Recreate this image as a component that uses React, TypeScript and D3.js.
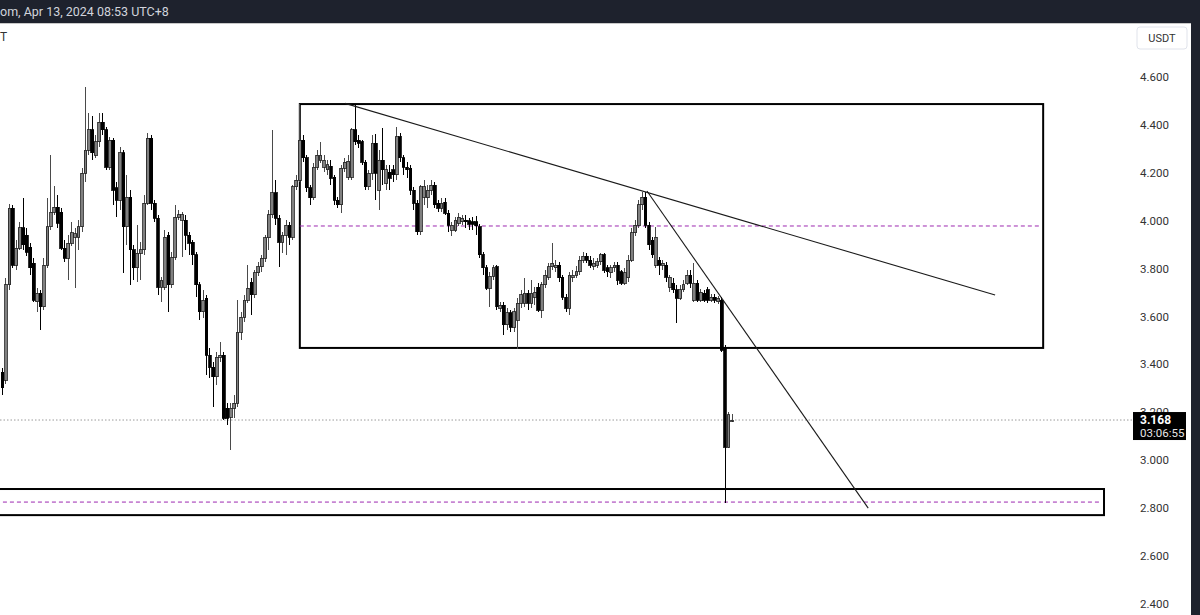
import React from 'react';
import * as d3 from 'd3';

// [open, high, low, close]
const ohlc: [number, number, number, number][] = [
  [3.368, 3.385, 3.273, 3.302], [3.335, 3.761, 3.318, 3.732], [3.732, 4.070, 3.711, 4.053], [4.053, 4.066, 3.803, 3.815],
  [3.815, 3.919, 3.794, 3.886], [3.886, 3.995, 3.878, 3.970], [3.970, 4.095, 3.878, 3.899], [3.940, 3.970, 3.852, 3.869],
  [3.890, 3.907, 3.773, 3.803], [3.823, 3.844, 3.661, 3.669], [3.661, 3.719, 3.619, 3.698], [3.698, 3.711, 3.544, 3.640],
  [3.640, 3.844, 3.627, 3.815], [3.815, 4.095, 3.803, 3.974], [3.974, 4.274, 3.961, 4.036], [4.036, 4.145, 4.024, 4.057],
  [4.057, 4.107, 3.970, 3.990], [4.036, 4.053, 3.878, 3.886], [3.886, 3.919, 3.828, 3.844], [3.844, 3.940, 3.752, 3.907],
  [3.907, 3.995, 3.894, 3.949], [3.932, 3.970, 3.719, 3.945], [3.932, 4.003, 3.878, 3.974], [3.974, 4.220, 3.953, 4.199],
  [4.199, 4.558, 4.162, 4.295], [4.295, 4.450, 4.274, 4.379], [4.379, 4.437, 4.253, 4.283], [4.274, 4.358, 4.262, 4.329],
  [4.329, 4.450, 4.308, 4.412], [4.412, 4.450, 4.358, 4.379], [4.379, 4.391, 4.212, 4.224], [4.224, 4.350, 4.212, 4.337],
  [4.337, 4.345, 4.066, 4.128], [4.137, 4.162, 4.015, 4.086], [4.086, 4.308, 4.045, 4.283], [4.283, 4.295, 3.782, 3.974],
  [3.974, 4.191, 3.899, 4.099], [4.099, 4.128, 3.732, 3.878], [3.878, 3.899, 3.752, 3.803], [3.803, 3.982, 3.744, 3.865],
  [3.865, 3.911, 3.752, 3.878], [3.878, 4.107, 3.857, 4.074], [4.074, 4.366, 4.066, 4.345], [4.345, 4.358, 4.045, 4.074],
  [4.074, 4.086, 3.995, 4.011], [4.011, 4.024, 3.690, 3.723], [3.723, 3.765, 3.661, 3.752], [3.723, 3.961, 3.711, 3.932],
  [3.940, 3.953, 3.619, 3.732], [3.732, 3.869, 3.719, 3.848], [3.848, 4.066, 3.836, 4.015], [4.015, 4.045, 4.003, 4.024],
  [4.003, 4.036, 3.848, 4.024], [4.003, 4.024, 3.878, 3.940], [3.940, 3.953, 3.857, 3.907], [3.911, 3.919, 3.815, 3.857],
  [3.857, 3.869, 3.681, 3.732], [3.732, 3.744, 3.585, 3.619], [3.619, 3.711, 3.594, 3.669], [3.677, 3.690, 3.356, 3.439],
  [3.439, 3.469, 3.343, 3.389], [3.389, 3.410, 3.222, 3.348], [3.348, 3.452, 3.314, 3.431], [3.431, 3.494, 3.410, 3.439],
  [3.439, 3.452, 3.168, 3.176], [3.218, 3.239, 3.147, 3.176], [3.180, 3.239, 3.043, 3.218], [3.218, 3.273, 3.176, 3.239],
  [3.239, 3.669, 3.222, 3.535], [3.535, 3.619, 3.502, 3.598], [3.598, 3.690, 3.577, 3.669], [3.669, 3.815, 3.656, 3.719],
  [3.744, 3.761, 3.606, 3.690], [3.690, 3.794, 3.677, 3.782], [3.782, 3.828, 3.769, 3.807], [3.807, 3.857, 3.786, 3.844],
  [3.844, 3.940, 3.828, 3.928], [3.928, 4.045, 3.878, 4.024], [4.024, 4.379, 4.011, 4.116], [4.116, 4.170, 3.982, 4.011],
  [4.011, 4.024, 3.807, 3.911], [3.911, 3.953, 3.865, 3.940], [3.940, 4.003, 3.857, 3.982], [3.982, 3.995, 3.899, 3.932],
  [3.932, 4.149, 3.919, 4.141], [4.141, 4.191, 4.128, 4.170], [4.170, 4.487, 4.162, 4.337], [4.337, 4.358, 4.245, 4.262],
  [4.262, 4.274, 4.120, 4.137], [4.137, 4.149, 4.066, 4.095], [4.095, 4.241, 4.086, 4.224], [4.224, 4.295, 4.212, 4.274],
  [4.253, 4.329, 4.241, 4.274], [4.224, 4.274, 4.203, 4.253], [4.212, 4.253, 4.191, 4.233], [4.228, 4.253, 4.149, 4.178],
  [4.182, 4.191, 4.066, 4.086], [4.086, 4.099, 4.053, 4.066], [4.066, 4.233, 4.032, 4.220], [4.220, 4.262, 4.203, 4.245],
  [4.182, 4.274, 4.170, 4.249], [4.182, 4.387, 4.170, 4.379], [4.379, 4.487, 4.316, 4.329], [4.337, 4.358, 4.304, 4.324],
  [4.329, 4.337, 4.233, 4.245], [4.245, 4.253, 4.128, 4.141], [4.141, 4.212, 4.128, 4.199], [4.199, 4.358, 4.170, 4.324],
  [4.324, 4.362, 4.086, 4.199], [4.128, 4.295, 4.045, 4.253], [4.253, 4.387, 4.149, 4.212], [4.157, 4.233, 4.128, 4.212],
  [4.203, 4.233, 4.128, 4.178], [4.212, 4.233, 4.162, 4.191], [4.191, 4.391, 4.170, 4.350], [4.350, 4.366, 4.245, 4.262],
  [4.262, 4.274, 4.191, 4.224], [4.224, 4.245, 4.178, 4.212], [4.220, 4.233, 4.107, 4.128], [4.128, 4.141, 4.045, 4.074],
  [4.074, 4.086, 3.940, 3.953], [3.953, 4.149, 3.940, 4.141], [4.099, 4.170, 4.066, 4.141], [4.095, 4.149, 4.053, 4.128],
  [4.128, 4.170, 4.107, 4.149], [4.149, 4.162, 4.053, 4.066], [4.074, 4.086, 4.036, 4.053], [4.053, 4.095, 4.036, 4.074],
  [4.078, 4.095, 4.024, 4.032], [4.032, 4.045, 3.953, 3.982], [3.961, 3.995, 3.936, 3.982], [3.961, 4.015, 3.953, 4.003],
  [3.990, 4.032, 3.978, 4.015], [3.995, 4.024, 3.982, 4.011], [4.003, 4.024, 3.970, 3.995], [3.999, 4.011, 3.961, 3.986],
  [3.995, 4.015, 3.961, 3.986], [3.995, 4.020, 3.940, 3.978], [3.974, 3.986, 3.844, 3.857], [3.857, 3.869, 3.773, 3.803],
  [3.803, 3.815, 3.711, 3.719], [3.719, 3.786, 3.640, 3.769], [3.769, 3.815, 3.752, 3.803], [3.807, 3.815, 3.627, 3.640],
  [3.635, 3.661, 3.619, 3.648], [3.648, 3.661, 3.523, 3.565], [3.565, 3.635, 3.544, 3.615], [3.615, 3.627, 3.535, 3.556],
  [3.556, 3.635, 3.535, 3.619], [3.585, 3.677, 3.465, 3.656], [3.656, 3.711, 3.635, 3.690], [3.656, 3.761, 3.640, 3.698],
  [3.698, 3.711, 3.627, 3.656], [3.656, 3.752, 3.635, 3.698], [3.681, 3.723, 3.648, 3.702], [3.723, 3.740, 3.619, 3.627],
  [3.627, 3.744, 3.594, 3.732], [3.732, 3.794, 3.719, 3.773], [3.765, 3.823, 3.752, 3.807], [3.807, 3.907, 3.794, 3.823],
  [3.803, 3.836, 3.786, 3.815], [3.815, 3.828, 3.744, 3.761], [3.765, 3.773, 3.669, 3.681], [3.681, 3.694, 3.619, 3.635],
  [3.635, 3.786, 3.606, 3.773], [3.765, 3.794, 3.744, 3.773], [3.773, 3.811, 3.761, 3.786], [3.786, 3.852, 3.773, 3.836],
  [3.836, 3.869, 3.823, 3.852], [3.852, 3.865, 3.823, 3.836], [3.836, 3.852, 3.803, 3.815], [3.811, 3.844, 3.794, 3.823],
  [3.815, 3.844, 3.803, 3.828], [3.828, 3.865, 3.815, 3.857], [3.857, 3.865, 3.782, 3.794], [3.803, 3.815, 3.765, 3.786],
  [3.782, 3.815, 3.761, 3.803], [3.803, 3.828, 3.786, 3.815], [3.815, 3.828, 3.732, 3.752], [3.786, 3.794, 3.732, 3.740],
  [3.740, 3.803, 3.732, 3.782], [3.761, 3.857, 3.744, 3.836], [3.836, 3.970, 3.828, 3.949], [3.949, 4.003, 3.936, 3.982],
  [3.982, 4.086, 3.970, 4.066], [4.066, 4.120, 4.045, 4.099], [4.099, 4.120, 3.970, 3.982], [3.982, 3.995, 3.878, 3.899],
  [3.919, 3.932, 3.844, 3.857], [3.815, 3.974, 3.803, 3.932], [3.836, 3.848, 3.773, 3.815], [3.815, 3.836, 3.794, 3.823],
  [3.815, 3.828, 3.744, 3.765], [3.723, 3.773, 3.702, 3.765], [3.740, 3.761, 3.698, 3.711], [3.711, 3.732, 3.573, 3.677],
  [3.677, 3.732, 3.669, 3.711], [3.711, 3.752, 3.702, 3.732], [3.740, 3.794, 3.732, 3.773], [3.773, 3.794, 3.719, 3.740],
  [3.669, 3.823, 3.661, 3.740], [3.740, 3.752, 3.661, 3.669], [3.669, 3.715, 3.661, 3.702], [3.698, 3.711, 3.661, 3.669],
  [3.711, 3.723, 3.656, 3.669], [3.669, 3.694, 3.661, 3.681], [3.681, 3.694, 3.656, 3.669], [3.661, 3.686, 3.652, 3.677],
  [3.669, 3.681, 3.452, 3.460], [3.465, 3.481, 2.821, 3.055], [3.055, 3.201, 3.051, 3.189], [3.164, 3.193, 3.160, 3.168],
];

const priceTicks = [4.6, 4.4, 4.2, 4.0, 3.8, 3.6, 3.4, 3.2, 3.0, 2.8, 2.6, 2.4];
const lastPrice = 3.168;
const countdown = '03:06:55';
const headerText = 'om, Apr 13, 2024 08:53 UTC+8';
const currency = 'USDT';
const symbolTail = 'T';

// drawings in (bar index, price) units
const rangeBoxes = [
  { from: 86, to: 301, top: 4.487, bottom: 3.469 },
  { from: -10, to: 318.6, top: 2.88, bottom: 2.771 },
];
const trendLines = [
  { i0: 99.1, p0: 4.49, i1: 287.1, p1: 3.69 },
  { i0: 186.4, p0: 4.124, i1: 250.4, p1: 2.8 },
];

const W = 1200;
const H = 615;

export default function App() {
  const x = d3.scaleLinear().domain([0, ohlc.length - 1]).range([2.5, 732]);
  const y = d3.scaleLinear().domain([2.4, 4.6]).range([604, 77]);
  const fmt = d3.format('.3f');
  const bodyW = 2.8;
  const font = "Roboto, 'Open Sans', 'Liberation Sans', sans-serif";

  return (
    <svg
      width={W}
      height={H}
      style={{ position: 'absolute', left: 0, top: 0, display: 'block', background: '#fff' }}
      fontFamily={font}
    >
      <rect x={0} y={0} width={W} height={H} fill="#ffffff" />

      {/* last price dotted line */}
      <line x1={0} x2={1133} y1={y(lastPrice)} y2={y(lastPrice)} stroke="#9a9a9a" strokeWidth={1} strokeDasharray="1.5 2" />

      {/* range boxes with mid lines */}
      {rangeBoxes.map((b, k) => {
        const x0 = x(b.from);
        const x1 = x(b.to);
        const mid = (b.top + b.bottom) / 2;
        return (
          <g key={`box${k}`}>
            <rect x={x0} y={y(b.top)} width={x1 - x0} height={y(b.bottom) - y(b.top)} fill="none" stroke="#000" strokeWidth={2} />
            <line x1={x0} x2={x1 - 3} y1={y(mid)} y2={y(mid)} stroke="#9c27b0" strokeWidth={1} strokeDasharray="4 3" />
          </g>
        );
      })}

      {/* candles */}
      <g shapeRendering="crispEdges">
        {ohlc.map((d, i) => {
          const [o, h, l, c] = d;
          const up = c >= o;
          const cx = x(i);
          const yTop = y(Math.max(o, c));
          const yBot = y(Math.min(o, c));
          const bh = Math.max(1, yBot - yTop);
          return (
            <g key={i}>
              <line x1={cx} x2={cx} y1={y(h)} y2={y(l)} stroke={up ? '#4a4a4a' : '#000'} strokeWidth={1} />
              <rect
                x={cx - bodyW / 2}
                y={yTop}
                width={bodyW}
                height={bh}
                fill={up ? '#808080' : '#000'}
                stroke={up ? '#1e1e1e' : '#000'}
                strokeWidth={0.8}
              />
            </g>
          );
        })}
      </g>

      {/* trend lines */}
      {trendLines.map((t, k) => (
        <line key={`tl${k}`} x1={x(t.i0)} y1={y(t.p0)} x2={x(t.i1)} y2={y(t.p1)} stroke="#1a1a1a" strokeWidth={1.1} />
      ))}

      {/* price axis labels */}
      {priceTicks.map((p) => (
        <text key={p} x={1140} y={y(p)} dy="0.35em" fontSize={11.5} fill="#333">
          {fmt(p)}
        </text>
      ))}

      {/* last price label */}
      <rect x={1133} y={y(lastPrice) - 8} width={53} height={28} fill="#000" />
      <text x={1140} y={y(lastPrice) + 4} fontSize={12} fontWeight="bold" fill="#fff">
        {fmt(lastPrice)}
      </text>
      <text x={1140} y={y(lastPrice) + 16.5} fontSize={11.5} fill="#e6e6e6">
        {countdown}
      </text>

      {/* currency box */}
      <rect x={1137} y={27} width={50} height={22} rx={3} fill="#fff" stroke="#e0e3eb" />
      <text x={1162} y={38} dy="0.35em" textAnchor="middle" fontSize={11} fill="#333">
        {currency}
      </text>

      {/* header bar */}
      <rect x={0} y={0} width={W} height={23} fill="#1e222d" />
      <line x1={0} x2={W} y1={23.5} y2={23.5} stroke="#c8c8c8" />
      <text x={0} y={12} dy="0.35em" fontSize={12.5} fill="#d1d4dc">
        {headerText}
      </text>
      <text x={0} y={37} dy="0.35em" fontSize={12} fill="#333">
        {symbolTail}
      </text>

      {/* right dark strip */}
      <rect x={1191} y={0} width={9} height={H} fill="#1e222d" />
    </svg>
  );
}
